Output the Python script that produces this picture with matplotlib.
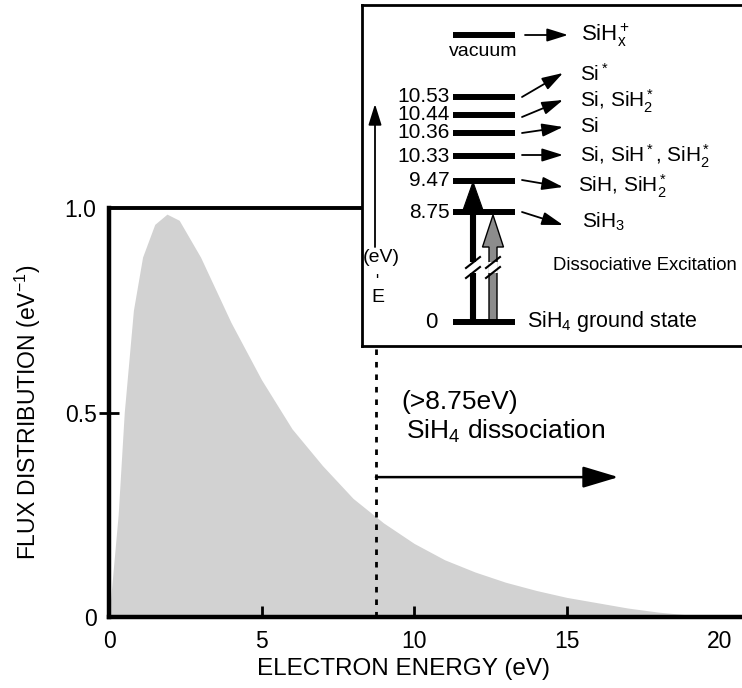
import matplotlib
matplotlib.use("Agg")
import matplotlib.pyplot as plt
from matplotlib.patches import FancyArrow

plt.rcParams['font.family'] = ['Liberation Sans', 'DejaVu Sans']
plt.rcParams['mathtext.fontset'] = 'custom'
plt.rcParams['mathtext.rm'] = 'Liberation Sans'
plt.rcParams['mathtext.it'] = 'Liberation Sans'

# electron flux distribution
energy = [0, 0.3, 0.5, 0.8, 1.1, 1.5, 1.9, 2.3, 3, 4, 5, 6, 7, 8, 9, 10,
          11, 12, 13, 14, 15, 16, 17, 18, 19, 20]
flux = [0, 0.25, 0.50, 0.75, 0.88, 0.96, 0.985, 0.97, 0.88, 0.72, 0.58,
        0.46, 0.37, 0.29, 0.23, 0.18, 0.14, 0.11, 0.085, 0.065, 0.048,
        0.035, 0.022, 0.012, 0.005, 0.0]
x_ticks = [0, 5, 10, 15, 20]
y_ticks = [0, 0.5, 1.0]
y_tick_labels = ['0', '0.5', '1.0']
threshold = 8.75

# energy level diagram
level_values = ['10.53', '10.44', '10.36', '10.33', '9.47', '8.75']
products = [r'Si$^*$', r'Si, SiH$\mathregular{_2^*}$', 'Si',
            r'Si, SiH$^*$, SiH$\mathregular{_2^*}$', r'SiH, SiH$\mathregular{_2^*}$',
            r'SiH$_3$']

fig = plt.figure(figsize=(7.42, 6.88), dpi=100)
ax = fig.add_axes([109 / 742, 71 / 688, 633 / 742, 409 / 688])
ax.fill_between(energy, flux, color='#d2d2d2', lw=0)
ax.set_xlim(0, 20.75)
ax.set_ylim(0, 1.0)
for s in ['left', 'bottom']:
    ax.spines[s].set_linewidth(3.2)
ax.spines['top'].set_linewidth(2.8)
ax.spines['right'].set_visible(False)
ax.set_xticks(x_ticks)
ax.set_yticks(y_ticks, y_tick_labels)
ax.tick_params(axis='x', direction='in', length=8, width=2, labelsize=16.5, pad=9)
ax.tick_params(axis='y', direction='inout', length=14, width=2, labelsize=16.5, pad=2)
for t in [ax.xaxis.get_major_ticks()[0], ax.xaxis.get_major_ticks()[-1],
          ax.yaxis.get_major_ticks()[0], ax.yaxis.get_major_ticks()[-1]]:
    t.tick1line.set_visible(False)
ax.set_xlabel('ELECTRON ENERGY (eV)', fontsize=17.5)
ax.xaxis.set_label_coords(0.466, -0.1)
ax.set_ylabel(r'FLUX DISTRIBUTION (eV$^{-1}$)', fontsize=16.5)
ax.yaxis.set_label_coords(-0.105, 0.5)

ax.plot([threshold, threshold], [0, 0.67], color='k', lw=2, ls=(0, (2, 2.5)))
ax.annotate('', xy=(16.7, 0.342), xytext=(threshold, 0.342),
            arrowprops=dict(arrowstyle='-|>,head_length=1.0,head_width=0.3',
                            lw=1.8, color='k', mutation_scale=22, shrinkA=0, shrinkB=0))
ax.text(9.6, 0.526, '(>8.75eV)', fontsize=19, va='center')
ax.text(9.75, 0.455, r'SiH$_4$ dissociation', fontsize=19, va='center')

# inset with energy levels (drawn in pixel-like coordinates)
ins = fig.add_axes([362 / 742, 342 / 688, 380 / 742, 341 / 688])
ins.set_zorder(3)
ins.set_facecolor('white')
ins.set_xlim(362, 742)
ins.set_ylim(346, 5)
ins.set_xticks([])
ins.set_yticks([])
for s in ins.spines.values():
    s.set_linewidth(2)
ins.spines['right'].set_visible(False)

level_y = [97, 115, 133, 156, 181, 212]
arrow_start = [97, 117, 133, 155, 180, 212]
arrow_end = [73, 100, 127, 155, 187, 225]
label_y = [74, 101, 127, 156, 186, 222]
label_x = [580, 580, 580, 580, 578, 582]

ins.plot([453, 515], [35, 35], color='k', lw=4.3, solid_capstyle='butt')
ins.text(483, 51, 'vacuum', fontsize=14, ha='center', va='center')
ins.annotate('', xy=(568, 35), xytext=(525, 35),
             arrowprops=dict(arrowstyle='-|>,head_length=0.8,head_width=0.25',
                             lw=1.3, color='k', mutation_scale=16, shrinkA=0, shrinkB=0))
ins.text(581, 35, r'SiH$\mathregular{_x^+}$', fontsize=16, va='center')

for val, y, ys, ye, prod, ly, lx in zip(level_values, level_y, arrow_start,
                                         arrow_end, products, label_y, label_x):
    ins.plot([453, 515], [y, y], color='k', lw=4.3, solid_capstyle='butt')
    ins.text(450, y, val, fontsize=15, ha='right', va='center')
    ins.annotate('', xy=(563, ye), xytext=(522, ys),
                 arrowprops=dict(arrowstyle='-|>,head_length=0.8,head_width=0.25',
                                 lw=1.3, color='k', mutation_scale=16, shrinkA=0, shrinkB=0))
    ins.text(lx, ly, prod, fontsize=15, va='center')

ins.plot([453, 515], [322, 322], color='k', lw=4.3, solid_capstyle='butt')
ins.text(438, 322, '0', fontsize=16, ha='right', va='center')
ins.text(527, 322, r'SiH$_4$ ground state', fontsize=15.5, va='center')
ins.text(553, 266, 'Dissociative Excitation', fontsize=13.3, va='center')

# excitation arrows with breaks
ins.add_patch(FancyArrow(473, 322, 0, -140, width=5, head_width=22, head_length=31,
                         length_includes_head=True, fc='k', ec='k', lw=0.8))
ins.add_patch(FancyArrow(493, 322, 0, -107, width=8, head_width=21, head_length=32,
                         length_includes_head=True, fc='#8c8c8c', ec='k', lw=1.0))
for bx in [473, 493]:
    ins.plot([bx, bx], [262, 273], color='white', lw=7, solid_capstyle='butt', zorder=4)
    ins.plot([bx - 7, bx + 7], [268, 257], color='k', lw=1.5, zorder=5)
    ins.plot([bx - 7, bx + 7], [278, 267], color='k', lw=1.5, zorder=5)

# energy axis of the diagram
ins.annotate('', xy=(375, 104), xytext=(375, 247),
             arrowprops=dict(arrowstyle='-|>,head_length=0.8,head_width=0.25',
                             lw=1.3, color='k', mutation_scale=16, shrinkA=0, shrinkB=0))
ins.text(381, 257, '(eV)', fontsize=14, ha='center', va='center')
ins.text(377, 281, "'", fontsize=12, ha='center', va='center')
ins.text(378, 297, 'E', fontsize=14, ha='center', va='center')

fig.savefig('out.png', dpi=100)
